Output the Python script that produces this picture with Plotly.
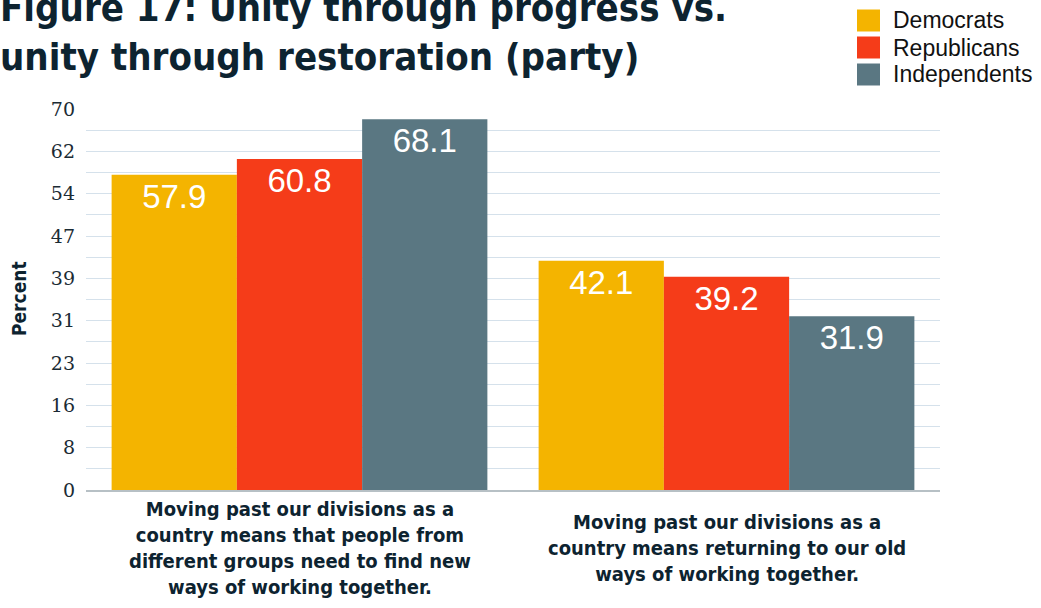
import plotly.graph_objects as go

# ---- data ----
categories = [
    "Moving past our divisions as a<br>country means that people from<br>different groups need to find new<br>ways of working together.",
    "Moving past our divisions as a<br>country means returning to our old<br>ways of working together.",
]
parties = ["Democrats", "Republicans", "Independents"]
democrats = [57.9, 42.1]
republicans = [60.8, 39.2]
independents = [68.1, 31.9]
y_tick_labels = ["0", "8", "16", "23", "31", "39", "47", "54", "62", "70"]
y_max = 70

series = [democrats, republicans, independents]
colors = ["#F4B400", "#F53C19", "#5A7782"]

W, H = 1041, 608
L, R, T, B = 86, 101, 109, 118
PW, PH = W - L - R, H - T - B

def px_x(p):
    return (p - L) / PW

def px_y(p):
    return (H - B - p) / PH

HEAVY = "DejaVu Sans Condensed, DejaVu Sans, sans-serif"
INK = "#0d2330"

fig = go.Figure()
for name, vals, col in zip(parties, series, colors):
    fig.add_trace(go.Bar(
        x=categories, y=vals, name=name,
        marker=dict(color=col, line=dict(width=0)),
        text=[f"{v:.1f}" for v in vals],
        textposition="inside", insidetextanchor="end",
        textfont=dict(family="Liberation Sans, Arial, sans-serif", size=33, color="white"),
        showlegend=False,
    ))

n = len(y_tick_labels) - 1
major = [y_max * i / n for i in range(n + 1)]
minor = [y_max * (2 * i + 1) / (2 * n) for i in range(n)]

fig.update_layout(
    width=W, height=H,
    margin=dict(l=L, r=R, t=T, b=B, autoexpand=False),
    paper_bgcolor="white", plot_bgcolor="white",
    barmode="group", bargap=0.12, bargroupgap=0,
    xaxis=dict(showticklabels=False, ticks="", showgrid=False,
               showline=True, linecolor="#b7c0c5", linewidth=2),
    yaxis=dict(range=[0, y_max], tickvals=major, ticktext=y_tick_labels,
               showgrid=True, gridcolor="#d5e1eb", gridwidth=1,
               minor=dict(tickvals=minor, showgrid=True, gridcolor="#d5e1eb", gridwidth=1),
               zeroline=False, ticks="", ticklabelstandoff=10,
               tickfont=dict(family="DejaVu Serif, serif", size=19, color="#1b2b34")),
)

annotations = []
# title
annotations.append(dict(
    text="<b>Figure 17: Unity through progress vs.<br>unity through restoration (party)</b>",
    xref="paper", yref="paper", x=px_x(-2), y=px_y(-16),
    xanchor="left", yanchor="top", align="left", showarrow=False,
    font=dict(family=HEAVY, size=38, color=INK),
))
# y axis title
annotations.append(dict(
    text="<b>Percent</b>", textangle=-90,
    xref="paper", yref="paper", x=px_x(19), y=px_y(299),
    xanchor="center", yanchor="middle", showarrow=False,
    font=dict(family=HEAVY, size=19, color=INK),
))
# category labels
for cat in categories:
    annotations.append(dict(
        text=f"<b>{cat}</b>", xref="x", yref="paper", x=cat, y=px_y(548),
        xanchor="center", yanchor="middle", align="center", showarrow=False,
        font=dict(family=HEAVY, size=20, color=INK),
    ))

# legend
shapes = []
for i, (name, col) in enumerate(zip(parties, colors)):
    cy = 20.5 + 27 * i
    shapes.append(dict(type="rect", xref="paper", yref="paper",
                       x0=px_x(857), x1=px_x(880), y0=px_y(cy - 11), y1=px_y(cy + 11),
                       fillcolor=col, line=dict(width=0)))
    annotations.append(dict(
        text=name, xref="paper", yref="paper", x=px_x(891), y=px_y(cy),
        xanchor="left", yanchor="middle", showarrow=False,
        font=dict(family="Liberation Sans, Arial, sans-serif", size=23, color="#111111"),
    ))

fig.update_layout(annotations=annotations, shapes=shapes)
fig.write_html("out.html")
